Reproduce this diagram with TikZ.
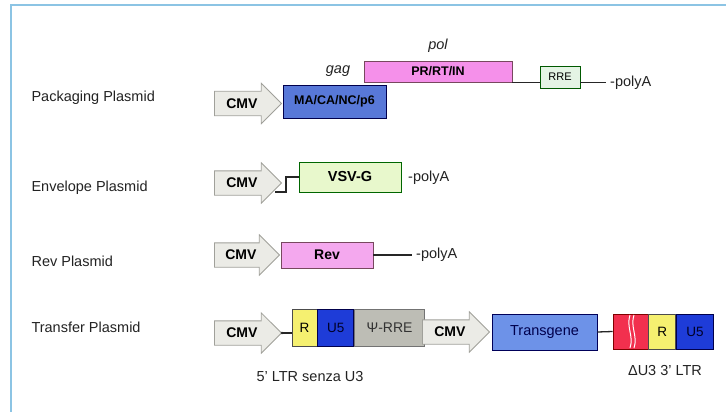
\documentclass[tikz,border=0pt]{standalone}
\usepackage{fontspec}
\setmainfont{Liberation Sans}
\usetikzlibrary{shapes,positioning,calc}

\definecolor{framecol}{HTML}{8CC4E4}
\definecolor{labeltext}{HTML}{222222}
\definecolor{arrowfill}{HTML}{EBEBE6}
\definecolor{arrowline}{HTML}{A0A09A}
\definecolor{gagblue}{HTML}{5878D8}
\definecolor{polpink}{HTML}{F590EA}
\definecolor{revpink}{HTML}{F4A8EE}
\definecolor{rregreen}{HTML}{E4F4E4}
\definecolor{vsvgreen}{HTML}{E8F8CC}
\definecolor{ryellow}{HTML}{F5F070}
\definecolor{ublue}{HTML}{1E3CD8}
\definecolor{psigray}{HTML}{BDBDB5}
\definecolor{tgblue}{HTML}{6D92E8}
\definecolor{ltrred}{HTML}{F2304E}

\tikzset{
  cmvarrow/.style={single arrow, draw=arrowline, fill=arrowfill, line width=0.8pt,
    minimum height=67pt, single arrow head extend=8pt, text height=9.5pt, text depth=0pt,
    inner ysep=7pt, inner xsep=2pt, font=\fontsize{14}{15}\selectfont\bfseries, anchor=tip},
  gene/.style={rectangle, draw, line width=0.8pt, inner sep=0pt,
    font=\fontsize{12.5}{14}\selectfont\bfseries},
  plabel/.style={font=\fontsize{14.5}{16}\selectfont, text=labeltext, anchor=west},
  tail/.style={font=\fontsize{14.5}{16}\selectfont, text=labeltext, anchor=west, inner xsep=4pt},
  wire/.style={line width=1.3pt, black!85}
}

\begin{document}
\begin{tikzpicture}[x=1pt,y=-1pt]
  \useasboundingbox (0,0) rectangle (726,412);
  \draw[framecol, line width=1.2pt] (11,412) -- (11,5) -- (726,5);

  % Packaging plasmid
  \node[plabel] (lblA) at (28,98) {Packaging Plasmid};
  \node[cmvarrow] (cmvA) at (282,103.5) {CMV};
  \node[gene, fill=gagblue, draw=blue!30!black, minimum width=103pt, minimum height=33pt] (gag) at (334.5,101.5) {MA/CA/NC/p6};
  \node[gene, fill=polpink, draw=magenta!40!black, minimum width=148pt, minimum height=21pt] (pol) at (438,71.5) {PR/RT/IN};
  \node[gene, fill=rregreen, draw=green!35!black, minimum width=40pt, minimum height=22pt, font=\fontsize{11}{13}\selectfont] (rre) at (560,77) {RRE};
  \node[font=\fontsize{14.5}{16}\selectfont\itshape, text=labeltext] (gagtxt) at (338,71) {gag};
  \node[font=\fontsize{14.5}{16}\selectfont\itshape, text=labeltext] (poltxt) at (438,46) {pol};
  \node[tail] (polyA) at (606,83) {-polyA};
  \draw[wire] (pol.south east) -- (pol.south east -| rre.west);
  \draw[wire] (rre.east |- pol.south) -- (polyA.west |- pol.south);

  % Envelope plasmid
  \node[plabel] (lblB) at (28,188) {Envelope Plasmid};
  \node[cmvarrow] (cmvB) at (282,183) {CMV};
  \node[gene, fill=vsvgreen, draw=green!40!black, minimum width=102pt, minimum height=30pt, font=\fontsize{14.5}{16}\selectfont\bfseries] (vsvg) at (350,177) {VSV-G};
  \node[tail] (polyB) at (404,178) {-polyA};
  \coordinate (envstart) at ($(cmvB.tip)+(-7,9)$);
  \draw[wire] (envstart) -- ++(11,0) |- (vsvg.west);

  % Rev plasmid
  \node[plabel] (lblC) at (28,261) {Rev Plasmid};
  \node[cmvarrow, minimum height=65pt] (cmvC) at (280,255) {CMV};
  \node[gene, fill=revpink, draw=magenta!40!black, minimum width=92pt, minimum height=26pt, font=\fontsize{14}{15}\selectfont\bfseries] (rev) at (327,255) {Rev};
  \node[tail] (polyC) at (412,255) {-polyA};
  \draw[wire] (rev.east) -- (polyC.west);

  % Transfer plasmid
  \node[plabel] (lblD) at (28,327) {Transfer Plasmid};
  \node[cmvarrow] (cmvD) at (282,333) {CMV};
  \node[gene, fill=ryellow, draw=black!70, minimum width=25pt, minimum height=37pt, font=\fontsize{13.5}{15}\selectfont] (rA) at (304.5,327.5) {R};
  \node[gene, fill=ublue, draw=blue!30!black, minimum width=36pt, minimum height=37pt, font=\fontsize{13.5}{15}\selectfont, text=blue!15!black, right=0pt of rA] (uA) {U5};
  \node[gene, fill=psigray, draw=black!55, minimum width=70pt, minimum height=37pt, font=\fontsize{14}{15}\selectfont, text=black!80, right=0pt of uA] (psi) {Ψ-RRE};
  \node[cmvarrow] (cmvE) at (490,332) {CMV};
  \node[gene, fill=tgblue, draw=blue!35!black, minimum width=105pt, minimum height=36pt, font=\fontsize{14.5}{16}\selectfont, text=blue!30!black] (tg) at (544.5,332) {Transgene};
  \node[gene, fill=ltrred, draw=red!50!black, minimum width=35pt, minimum height=35pt] (dU3) at (630.5,331.5) {};
  \node[gene, fill=ryellow, draw=black!70, minimum width=27pt, minimum height=35pt, font=\fontsize{13.5}{15}\selectfont, right=0pt of dU3] (rB) {R};
  \node[gene, fill=ublue, draw=blue!30!black, minimum width=37pt, minimum height=35pt, font=\fontsize{13.5}{15}\selectfont, text=blue!15!black, right=0pt of rB] (uB) {U5};
  % break in U3
  \draw[white, line width=1pt] (630,315) .. controls (626,327) and (634,336) .. (630,348);
  \draw[white, line width=1pt] (634,315) .. controls (630,327) and (638,336) .. (634,348);
  \fill[black!85] (cmvD.tip) circle (1.3);
  \draw[wire] (cmvD.tip) -- (cmvD.tip -| rA.west);
  \draw[wire] (tg.east) -- (dU3.west);
  \node[font=\fontsize{14.5}{16}\selectfont, text=labeltext] (ltr5) at (310,377) {5' LTR senza U3};
  \node[font=\fontsize{14.5}{16}\selectfont, text=labeltext] (ltr3) at (665,371) {ΔU3 3' LTR};
\end{tikzpicture}
\end{document}
